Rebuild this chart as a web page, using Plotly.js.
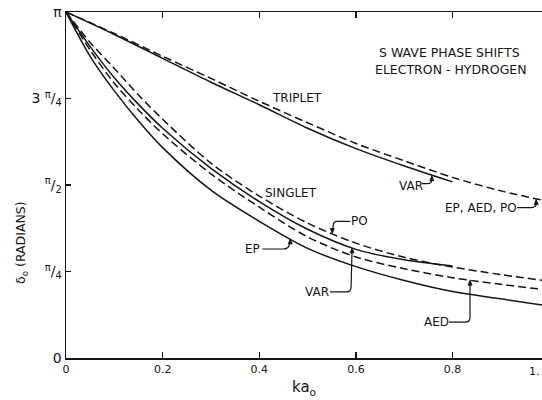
<!DOCTYPE html>
<html>
<head>
<meta charset="utf-8">
<script src="https://cdn.plot.ly/plotly-3.0.1.min.js"></script>
<style>html,body{margin:0;padding:0;background:#fff;}#chart{width:542px;height:400px;}</style>
</head>
<body>
<div id="chart"></div>
<script>
// ka0 values (x) and phase shifts in units of pi (y)
const kaTriplet = [0, 0.1, 0.2, 0.3, 0.4, 0.5, 0.6, 0.7, 0.8, 0.9, 1.0];
const tripletVAR = [1, 0.935, 0.866, 0.797, 0.732, 0.664, 0.605, 0.555, 0.509];
const tripletEpAedPo = [1, 0.938, 0.872, 0.808, 0.742, 0.680, 0.620, 0.570, 0.522, 0.483, 0.452];

const kaSinglet = [0, 0.05, 0.1, 0.15, 0.2, 0.3, 0.4, 0.5, 0.6, 0.7, 0.8, 0.9, 1.0];
const singletPO  = [1, 0.912, 0.837, 0.760, 0.690, 0.563, 0.468, 0.390, 0.332, 0.291, 0.263, 0.241, 0.222];
const singletVAR = [1, 0.900, 0.810, 0.733, 0.664, 0.548, 0.452, 0.372, 0.314, 0.284, 0.266];
const singletAED = [1, 0.890, 0.794, 0.717, 0.648, 0.532, 0.436, 0.350, 0.292, 0.258, 0.232, 0.213, 0.196];
const singletEP  = [1, 0.872, 0.772, 0.685, 0.608, 0.485, 0.395, 0.317, 0.264, 0.224, 0.192, 0.171, 0.150];

const xTickVals = [0, 0.2, 0.4, 0.6, 0.8];
const xTickText = ['0', '0.2', '0.4', '0.6', '0.8'];
const yTickVals = [0, 0.25, 0.5, 0.75, 1];
const yTickText = ['0', '<sup>π</sup>/<sub>4</sub>', '<sup>π</sup>/<sub>2</sub>', '3 <sup>π</sup>/<sub>4</sub>', 'π'];

const INK = '#151515';
const FONT = 'DejaVu Sans, Liberation Sans, sans-serif';

function curve(x, y, dashed) {
  return {
    x: x.slice(0, y.length), y: y, type: 'scatter', mode: 'lines',
    line: {color: INK, width: 1.5, dash: dashed ? '8px,4px' : 'solid', shape: 'spline', smoothing: 0.9},
    hoverinfo: 'skip', showlegend: false
  };
}

const data = [
  curve(kaTriplet, tripletVAR, false),
  curve(kaTriplet, tripletEpAedPo, true),
  curve(kaSinglet, singletPO, true),
  curve(kaSinglet, singletVAR, false),
  curve(kaSinglet, singletAED, true),
  curve(kaSinglet, singletEP, false)
];

// labels: [text, ka, value, size]
const labels = [
  ['S WAVE PHASE SHIFTS', 0.793, 0.882, 12.5],
  ['ELECTRON - HYDROGEN', 0.797, 0.835, 12.5],
  ['TRIPLET', 0.478, 0.751, 12],
  ['SINGLET', 0.466, 0.477, 12],
  ['VAR', 0.714, 0.497, 12],
  ['EP, AED, PO', 0.859, 0.434, 12],
  ['PO', 0.608, 0.396, 12],
  ['EP', 0.385, 0.315, 12],
  ['VAR', 0.519, 0.191, 12],
  ['AED', 0.766, 0.104, 12]
];

// leaders: tip [ka, value], path in pixel offsets from tip (y up), arrow direction
const leaders = [
  {tip: [0.757, 0.527], path: 'M -10,-8 L -5,-8 Q 0,-8 0,-4 L 0,-1', up: true},
  {tip: [0.973, 0.458], path: 'M -19,-8 L -5,-8 Q 0,-8 0,-4 L 0,-1', up: true},
  {tip: [0.551, 0.360], path: 'M 18,12 L 5,12 Q 1,12 1,8 L 0,1', up: false},
  {tip: [0.464, 0.344], path: 'M -28,-10 L -7,-10 Q -2,-10 -1,-6 L 0,-1', up: true},
  {tip: [0.592, 0.318], path: 'M -22,-44 L -6,-44 Q -1,-44 -1,-39 L 0,-1', up: true},
  {tip: [0.836, 0.225], path: 'M -21,-42 L -5,-42 Q 0,-42 0,-37 L 0,-1', up: true}
];

const shapes = [];
leaders.forEach(function(l) {
  shapes.push({type: 'path', xref: 'x', yref: 'y', xsizemode: 'pixel', ysizemode: 'pixel',
    xanchor: l.tip[0], yanchor: l.tip[1], path: l.path, line: {color: INK, width: 1.2}});
  shapes.push({type: 'path', xref: 'x', yref: 'y', xsizemode: 'pixel', ysizemode: 'pixel',
    xanchor: l.tip[0], yanchor: l.tip[1],
    path: l.up ? 'M -2,-5 L 0,0 L 2,-5 Z' : 'M -2,5 L 0,0 L 2,5 Z',
    line: {color: INK, width: 0.8}, fillcolor: INK});
});

const annotations = labels.map(function(l) {
  return {text: l[0], x: l[1], y: l[2], xref: 'x', yref: 'y', showarrow: false,
    font: {family: FONT, size: l[3], color: INK}, xanchor: 'center', yanchor: 'middle'};
});
annotations.push({text: 'δ<sub>o</sub> (RADIANS)', xref: 'paper', yref: 'paper', x: -0.092, y: 0.333,
  textangle: -90, showarrow: false, font: {family: FONT, size: 12.5, color: INK}, xanchor: 'center', yanchor: 'middle'});
annotations.push({text: '1.', xref: 'paper', yref: 'paper', x: 1.0, y: -0.038, showarrow: false,
  font: {family: FONT, size: 11, color: INK}, xanchor: 'right', yanchor: 'middle'});

const layout = {
  width: 542, height: 400,
  margin: {l: 66, r: 0, t: 12, b: 42},
  paper_bgcolor: '#fff', plot_bgcolor: '#fff',
  showlegend: false,
  font: {family: FONT, size: 11, color: INK},
  xaxis: {
    range: [0, 0.985], tickvals: xTickVals, ticktext: xTickText,
    ticks: 'inside', ticklen: 6, tickwidth: 1.2, tickcolor: INK,
    showline: true, linecolor: INK, linewidth: 1.5, mirror: 'ticks',
    showgrid: false, zeroline: false,
    tickfont: {family: FONT, size: 11, color: INK},
    title: {text: 'ka<sub>o</sub>', font: {family: FONT, size: 15, color: INK}, standoff: 7}
  },
  yaxis: {
    range: [0, 1], tickvals: yTickVals, ticktext: yTickText,
    ticks: 'inside', ticklen: 5, tickwidth: 1.2, tickcolor: INK,
    showline: true, linecolor: INK, linewidth: 1.5,
    showgrid: false, zeroline: false,
    tickfont: {family: FONT, size: 14, color: INK}
  },
  shapes: shapes,
  annotations: annotations
};

Plotly.newPlot('chart', data, layout, {staticPlot: true, displayModeBar: false});
</script>
</body>
</html>
